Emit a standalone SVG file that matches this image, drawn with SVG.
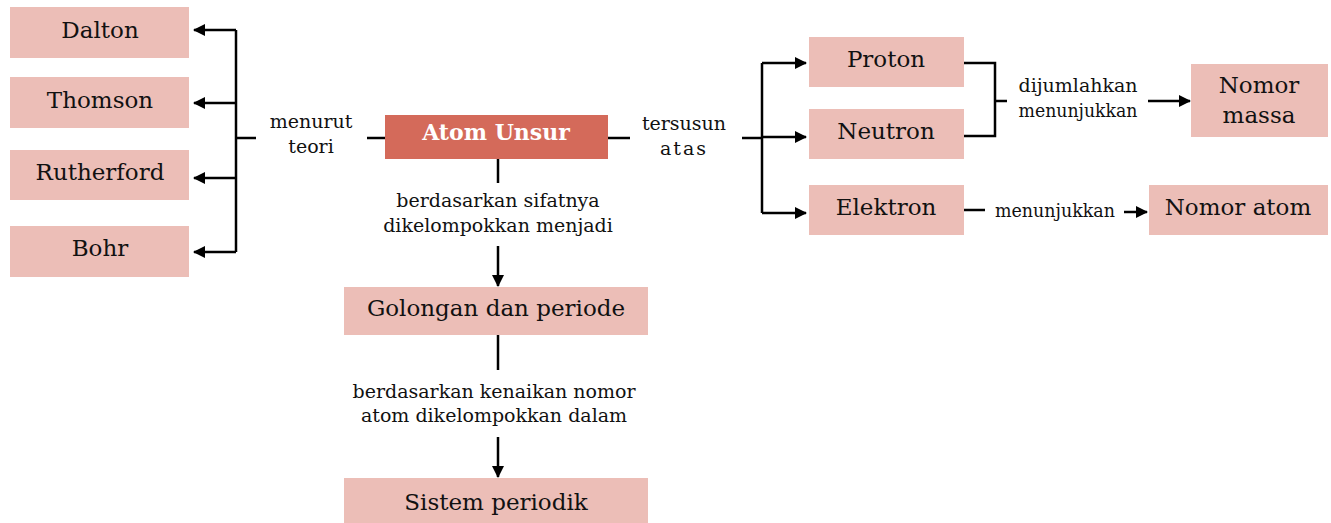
<svg xmlns="http://www.w3.org/2000/svg" width="1331" height="523" viewBox="0 0 1331 523">
<defs>
<marker id="ah" markerWidth="12" markerHeight="12" refX="11" refY="6" orient="auto" markerUnits="userSpaceOnUse">
<path d="M0,0 L12,6 L0,12 Z" fill="#000"/>
</marker>
<style>
.box{fill:#ecbeb7;}
.main{fill:#d46a5a;}
.lbl{font-family:'DejaVu Serif','Liberation Serif',serif;font-size:23px;fill:#111;text-anchor:middle;}
.mlbl{font-family:'DejaVu Serif','Liberation Serif',serif;font-size:22px;font-weight:bold;fill:#fff;text-anchor:middle;}
.edge{font-family:'DejaVu Serif','Liberation Serif',serif;font-size:19px;fill:#111;text-anchor:middle;}
.edgec{font-family:'DejaVu Serif Condensed','DejaVu Serif',serif;font-size:19px;fill:#111;text-anchor:middle;}
.ln{stroke:#000;stroke-width:2.5;fill:none;}
</style>
</defs>
<g id="connectors">
<path class="ln" d="M236,30 V252"/>
<path class="ln" d="M236,30 H194" marker-end="url(#ah)"/>
<path class="ln" d="M236,103 H194" marker-end="url(#ah)"/>
<path class="ln" d="M236,178 H194" marker-end="url(#ah)"/>
<path class="ln" d="M236,252 H194" marker-end="url(#ah)"/>
<path class="ln" d="M236,138 H256"/>
<path class="ln" d="M367,138 H385"/>
<path class="ln" d="M608,138 H630"/>
<path class="ln" d="M742,138 H762"/>
<path class="ln" d="M762,63 V213"/>
<path class="ln" d="M762,63 H806" marker-end="url(#ah)"/>
<path class="ln" d="M762,137 H806" marker-end="url(#ah)"/>
<path class="ln" d="M762,213 H806" marker-end="url(#ah)"/>
<path class="ln" d="M964,63 H995 V136 H964"/>
<path class="ln" d="M995,101 H1007"/>
<path class="ln" d="M1148,101 H1190" marker-end="url(#ah)"/>
<path class="ln" d="M964,210 H985"/>
<path class="ln" d="M1124,212 H1147" marker-end="url(#ah)"/>
<path class="ln" d="M498,159 V183"/>
<path class="ln" d="M498,246 V286" marker-end="url(#ah)"/>
<path class="ln" d="M498,335 V370"/>
<path class="ln" d="M498,437 V477" marker-end="url(#ah)"/>
<text class="edge" x="311" y="128">menurut</text>
<text class="edge" x="311" y="153">teori</text>
<text class="edge" x="684" y="130">tersusun</text>
<text class="edge" x="684" y="155" letter-spacing="2">atas</text>
<text class="edge" x="498" y="207">berdasarkan sifatnya</text>
<text class="edge" x="498" y="232">dikelompokkan menjadi</text>
<text class="edge" x="494" y="398">berdasarkan kenaikan nomor</text>
<text class="edge" x="494" y="422">atom dikelompokkan dalam</text>
<text class="edgec" x="1078" y="92" textLength="119" lengthAdjust="spacingAndGlyphs">dijumlahkan</text>
<text class="edgec" x="1078" y="117" textLength="119" lengthAdjust="spacingAndGlyphs">menunjukkan</text>
<text class="edgec" x="1055" y="217" textLength="120" lengthAdjust="spacingAndGlyphs">menunjukkan</text>
</g>
<g id="dalton"><rect class="box" x="10" y="7" width="179" height="51"/><text class="lbl" x="100" y="38">Dalton</text></g>
<g id="thomson"><rect class="box" x="10" y="77" width="179" height="51"/><text class="lbl" x="100" y="108">Thomson</text></g>
<g id="rutherford"><rect class="box" x="10" y="150" width="179" height="50"/><text class="lbl" x="100" y="180">Rutherford</text></g>
<g id="bohr"><rect class="box" x="10" y="226" width="179" height="51"/><text class="lbl" x="100" y="256">Bohr</text></g>
<g id="atom-unsur"><rect class="main" x="385" y="115" width="223" height="44"/><text class="mlbl" x="496" y="140">Atom Unsur</text></g>
<g id="golongan"><rect class="box" x="344" y="287" width="304" height="48"/><text class="lbl" x="496" y="316">Golongan dan periode</text></g>
<g id="sistem"><rect class="box" x="344" y="478" width="304" height="45"/><text class="lbl" x="496" y="510">Sistem periodik</text></g>
<g id="proton"><rect class="box" x="809" y="37" width="155" height="50"/><text class="lbl" x="886" y="67">Proton</text></g>
<g id="neutron"><rect class="box" x="809" y="109" width="155" height="50"/><text class="lbl" x="886" y="139">Neutron</text></g>
<g id="elektron"><rect class="box" x="809" y="185" width="155" height="50"/><text class="lbl" x="886" y="215">Elektron</text></g>
<g id="nomor-massa"><rect class="box" x="1191" y="64" width="137" height="73"/><text class="lbl" x="1259" y="93">Nomor</text><text class="lbl" x="1259" y="123">massa</text></g>
<g id="nomor-atom"><rect class="box" x="1149" y="185" width="179" height="50"/><text class="lbl" x="1238" y="215">Nomor atom</text></g>
</svg>
